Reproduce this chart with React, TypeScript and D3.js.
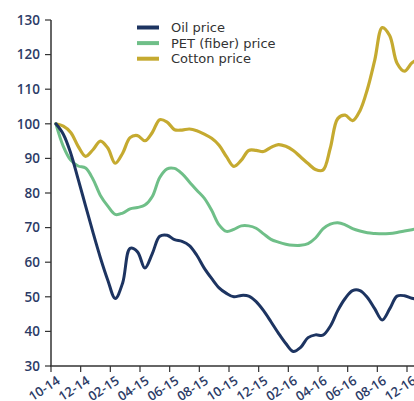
import React, { useEffect, useRef } from "react";
import * as d3 from "d3";

const W = 414;
const H = 401;

// Tick labels (month-year), every 2 months from Oct 2014
const tickLabels = ["10-14", "12-14", "02-15", "04-15", "06-15", "08-15", "10-15", "12-15", "02-16", "04-16", "06-16", "08-16", "12-16"];
const tickMonths = [0, 2, 4, 6, 8, 10, 12, 14, 16, 18, 20, 22, 24];
const yTicks = [30, 40, 50, 60, 70, 80, 90, 100, 110, 120, 130];

// Observation times in months since Oct 2014 (half-month steps)
const periods = d3.range(50).map((k) => 0.33 + 0.5 * k);

const oilPrice = [100, 97, 91.5, 84, 76.3, 68.6, 61.3, 54.8, 49.5, 54, 64, 63, 58.3, 62.5, 67.5, 67.8, 66.5, 66.0, 64.8, 62, 58.3, 55.3, 52.6, 51.0, 50.0, 50.4, 50.2, 48.6, 46, 42.8, 39.5, 36.5, 34.2, 35.4, 38.2, 39.0, 38.9, 41.5, 46, 49.5, 51.8, 51.8, 49.8, 46.5, 43.3, 46.5, 50.2, 50.3, 49.6, 49.2];
const petPrice = [100, 93.5, 89.5, 87.8, 87.2, 84, 79.3, 76.2, 73.8, 74.2, 75.4, 75.8, 76.5, 79.0, 84.5, 87.0, 87.1, 85.6, 83.2, 80.8, 78.5, 75.0, 70.8, 68.9, 69.5, 70.5, 70.5, 69.8, 68.2, 66.6, 65.8, 65.2, 64.9, 64.9, 65.4, 67.0, 69.6, 71.0, 71.4, 70.8, 69.7, 69.0, 68.5, 68.3, 68.2, 68.3, 68.6, 69.0, 69.4, 69.8];
const cottonPrice = [100, 99.3, 97.5, 93.5, 90.6, 92.5, 95.0, 93.0, 88.6, 91.5, 96.0, 96.6, 95.1, 97.5, 101.2, 100.5, 98.3, 98.2, 98.5, 98.0, 97.0, 95.8, 93.8, 90.5, 87.7, 89.5, 92.3, 92.3, 92.0, 93.2, 94.0, 93.5, 92.3, 90.4, 88.5, 86.8, 86.6, 93, 101.5, 102.5, 100.9, 103.8, 110, 118.5, 127.8, 125.5, 117.5, 115.2, 117.6, 119];

const seriesNames = ["Oil price", "PET (fiber) price", "Cotton price"];
const seriesColors = ["#1d3461", "#6fbf88", "#c5aa30"];

export default function App() {
  const ref = useRef<SVGSVGElement>(null);

  useEffect(() => {
    const svg = d3.select(ref.current);
    svg.selectAll("*").remove();

    const x = d3.scaleLinear().domain([0, 24]).range([51, 407]);
    const y = d3.scaleLinear().domain([30, 130]).range([366, 20]);

    const axisColor = "#333";
    const labelColor = "#2c3b66";
    const tickFont = "'Open Sans', sans-serif";
    const legendFont = "'DejaVu Sans', sans-serif";

    // Y axis
    const ya = svg.append("g");
    ya.append("line").attr("x1", 51).attr("x2", 51).attr("y1", y(130)).attr("y2", y(30)).attr("stroke", axisColor).attr("stroke-width", 1.5);
    yTicks.forEach((v) => {
      ya.append("line").attr("x1", 45).attr("x2", 51).attr("y1", y(v)).attr("y2", y(v)).attr("stroke", axisColor).attr("stroke-width", 1.2);
      ya.append("text")
        .attr("x", 40).attr("y", y(v)).attr("dy", "0.36em")
        .attr("text-anchor", "end").attr("font-family", tickFont).attr("font-weight", 600)
        .attr("font-size", 13.5).attr("fill", labelColor).text(String(v));
    });

    // X axis
    const xa = svg.append("g");
    xa.append("line").attr("x1", 50).attr("x2", W).attr("y1", y(30)).attr("y2", y(30)).attr("stroke", axisColor).attr("stroke-width", 1.5);
    tickMonths.forEach((m, i) => {
      const px = x(m);
      xa.append("line").attr("x1", px).attr("x2", px).attr("y1", y(30)).attr("y2", y(30) + 6).attr("stroke", axisColor).attr("stroke-width", 1.2);
      xa.append("text")
        .attr("transform", `translate(${px + 10},${y(30) + 17}) rotate(-33)`)
        .attr("text-anchor", "end").attr("font-family", tickFont).attr("font-weight", 600)
        .attr("font-size", 13).attr("fill", labelColor).text(tickLabels[i]);
    });

    // Lines
    const line = d3.line<[number, number]>()
      .x((d) => x(d[0]))
      .y((d) => y(d[1]))
      .curve(d3.curveCatmullRom.alpha(0.5));

    const all = [oilPrice, petPrice, cottonPrice];
    // draw cotton first, then PET, then oil on top
    [2, 1, 0].forEach((si) => {
      const pts = periods.map((t, i) => [t, all[si][i]] as [number, number]);
      svg.append("path").attr("d", line(pts) as string)
        .attr("fill", "none").attr("stroke", seriesColors[si])
        .attr("stroke-width", si === 2 ? 3.2 : 3).attr("stroke-linejoin", "round").attr("stroke-linecap", "round");
    });

    // Legend
    const lg = svg.append("g");
    seriesNames.forEach((name, i) => {
      const ly = 27.5 + i * 15.6;
      lg.append("line").attr("x1", 137).attr("x2", 159).attr("y1", ly).attr("y2", ly)
        .attr("stroke", seriesColors[i]).attr("stroke-width", 4);
      lg.append("text").attr("x", 171).attr("y", ly).attr("dy", "0.36em")
        .attr("font-family", legendFont).attr("font-size", 13).attr("fill", "#333").text(name);
    });
  }, []);

  return (
    <svg ref={ref} width={W} height={H} style={{ position: "absolute", left: 0, top: 0, background: "#fff" }} />
  );
}
